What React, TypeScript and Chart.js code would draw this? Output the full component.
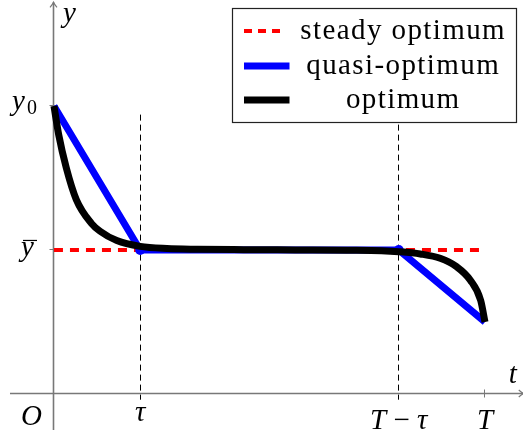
import React, { useEffect, useRef } from "react";
import { Chart, registerables } from "chart.js";

Chart.register(...registerables);

// Problem constants: switching time, horizon, initial / steady state
const TAU = 1;
const T_END = 5;
const Y0 = 2;
const Y_BAR = 1;

// Steady optimum (horizontal reference)
const steadyT = [0, 5];
const steadyY = [1, 1];

// Quasi-optimum: linear transients joined by the steady arc
const quasiT = [0, 1, 4, 5];
const quasiY = [2, 1, 1, 0.5];

// Optimum trajectory (turnpike shape)
const optimumT = [0, 0.055, 0.143, 0.259, 0.434, 0.535, 0.729, 1.0, 1.31, 1.66, 2.2, 2.8, 3.4, 3.8, 4.0, 4.25, 4.48, 4.67, 4.83, 4.95, 5];
const optimumY = [2, 1.8, 1.57, 1.35, 1.185, 1.13, 1.065, 1.025, 1.01, 1.005, 1.002, 1.0, 0.998, 0.995, 0.988, 0.972, 0.942, 0.884, 0.79, 0.65, 0.5];

const seriesLabels = ["steady optimum", "quasi-optimum", "optimum"];
const seriesColors = ["#ff0000", "#0000ff", "#000000"];

// Axis extents in data units
const X_MIN = -0.626;
const X_MAX = 5.441;
const Y_MIN = -0.299;
const Y_MAX = 2.736;
const AXIS_T_FROM = -0.51;
const AXIS_T_TO = 5.45;
const AXIS_Y_FROM = -0.25;
const AXIS_Y_TO = 2.72;
const GUIDE_Y_FROM = -0.04;
const GUIDE_Y_TO = 1.94;

const MATH = 'italic 29px "Liberation Serif", "Times New Roman", serif';
const ROMAN = '29px "Liberation Serif", "Times New Roman", serif';
const SUB = '20px "Liberation Serif", "Times New Roman", serif';
const AXIS_GRAY = "#787878";

const zip = (xs: number[], ys: number[]) => xs.map((x, i) => ({ x, y: ys[i] }));
const crisp = (p: number) => Math.round(p - 0.5) + 0.5;

const decorPlugin = {
  id: "decor",
  beforeDatasetsDraw(chart: any) {
    const { ctx, scales } = chart;
    const xs = scales.x;
    const ys = scales.y;
    const x0 = crisp(xs.getPixelForValue(0));
    const y0 = crisp(ys.getPixelForValue(0));
    ctx.save();
    ctx.strokeStyle = AXIS_GRAY;
    ctx.lineWidth = 1.6;
    // horizontal axis
    const xa = xs.getPixelForValue(AXIS_T_FROM);
    const xb = xs.getPixelForValue(AXIS_T_TO);
    ctx.beginPath();
    ctx.moveTo(xa, y0);
    ctx.lineTo(xb, y0);
    ctx.stroke();
    // vertical axis
    const ya = ys.getPixelForValue(AXIS_Y_FROM);
    const yb = ys.getPixelForValue(AXIS_Y_TO);
    ctx.beginPath();
    ctx.moveTo(x0, ya);
    ctx.lineTo(x0, yb);
    ctx.stroke();
    // arrow heads
    ctx.lineWidth = 1.2;
    ctx.beginPath();
    ctx.moveTo(xb - 5, y0 - 3.5);
    ctx.quadraticCurveTo(xb - 2, y0 - 0.8, xb, y0);
    ctx.quadraticCurveTo(xb - 2, y0 + 0.8, xb - 5, y0 + 3.5);
    ctx.stroke();
    ctx.beginPath();
    ctx.moveTo(x0 - 3.5, yb + 5);
    ctx.quadraticCurveTo(x0 - 0.8, yb + 2, x0, yb);
    ctx.quadraticCurveTo(x0 + 0.8, yb + 2, x0 + 3.5, yb + 5);
    ctx.stroke();
    // ticks
    ctx.lineWidth = 1;
    for (const v of [Y0, Y_BAR]) {
      const p = crisp(ys.getPixelForValue(v));
      ctx.beginPath();
      ctx.moveTo(x0 - 4, p);
      ctx.lineTo(x0 + 4, p);
      ctx.stroke();
    }
    const pT = crisp(xs.getPixelForValue(T_END));
    ctx.beginPath();
    ctx.moveTo(pT, y0 - 4);
    ctx.lineTo(pT, y0 + 4);
    ctx.stroke();

    // dashed guides at tau and T - tau
    ctx.strokeStyle = "#000";
    ctx.lineWidth = 1;
    ctx.setLineDash([6, 4]);
    for (const t of [TAU, T_END - TAU]) {
      const px = crisp(xs.getPixelForValue(t));
      ctx.beginPath();
      ctx.moveTo(px, ys.getPixelForValue(GUIDE_Y_TO));
      ctx.lineTo(px, ys.getPixelForValue(GUIDE_Y_FROM));
      ctx.stroke();
    }
    ctx.restore();
  },
  afterDatasetsDraw(chart: any) {
    const { ctx, scales } = chart;
    const xs = scales.x;
    const ys = scales.y;
    const x0 = xs.getPixelForValue(0);
    const y0 = ys.getPixelForValue(0);
    ctx.save();
    ctx.fillStyle = "#000";
    ctx.textBaseline = "alphabetic";

    // axis names
    ctx.font = MATH;
    ctx.textAlign = "left";
    ctx.fillText("y", x0 + 9, 22);
    ctx.fillText("t", xs.getPixelForValue(AXIS_T_TO) - 15, y0 - 11);
    ctx.fillText("O", x0 - 33, y0 + 31);

    // horizontal tick labels
    ctx.textAlign = "center";
    ctx.fillText("\u03c4", xs.getPixelForValue(TAU), y0 + 27);
    ctx.fillText("T", xs.getPixelForValue(T_END), y0 + 35);
    const pTm = xs.getPixelForValue(T_END - TAU);
    ctx.textAlign = "left";
    const wT = ctx.measureText("T").width;
    ctx.font = ROMAN;
    const wMinus = ctx.measureText(" \u2212 ").width;
    ctx.font = MATH;
    const wTau = ctx.measureText("\u03c4").width;
    const left = pTm - (wT + wMinus + wTau) / 2;
    ctx.fillText("T", left, y0 + 35);
    ctx.font = ROMAN;
    ctx.fillText(" \u2212 ", left + wT, y0 + 35);
    ctx.font = MATH;
    ctx.fillText("\u03c4", left + wT + wMinus, y0 + 35);

    // vertical tick labels
    const pY0 = ys.getPixelForValue(Y0);
    ctx.fillText("y", 12, pY0 + 4);
    ctx.font = SUB;
    ctx.fillText("0", 27, pY0 + 8);
    const pYb = ys.getPixelForValue(Y_BAR);
    ctx.font = MATH;
    ctx.fillText("y", 21, pYb + 6);
    ctx.strokeStyle = "#000";
    ctx.lineWidth = 1.2;
    ctx.beginPath();
    ctx.moveTo(23, pYb - 9.5);
    ctx.lineTo(37, pYb - 9.5);
    ctx.stroke();

    // legend
    const bx = 232.5;
    const by = 8.5;
    const bw = 284;
    const bh = 114;
    ctx.fillStyle = "#fff";
    ctx.fillRect(bx, by, bw, bh);
    ctx.strokeStyle = "#222";
    ctx.lineWidth = 1.2;
    ctx.strokeRect(bx, by, bw, bh);
    const rowY = [31, 66, 100];
    for (let i = 0; i < seriesLabels.length; i++) {
      ctx.strokeStyle = seriesColors[i];
      ctx.lineWidth = i === 0 ? 4 : 7;
      ctx.setLineDash(i === 0 ? [8, 6] : []);
      ctx.beginPath();
      ctx.moveTo(bx + 11.5, rowY[i]);
      ctx.lineTo(bx + (i === 0 ? 52 : 57), rowY[i]);
      ctx.stroke();
      ctx.setLineDash([]);
      ctx.fillStyle = "#000";
      ctx.font = ROMAN;
      (ctx as any).letterSpacing = "1.4px";
      ctx.textAlign = "center";
      ctx.fillText(seriesLabels[i], bx + 170.7, rowY[i] + 8);
      (ctx as any).letterSpacing = "0px";
    }
    ctx.restore();
  },
};

export default function App() {
  const ref = useRef<HTMLCanvasElement | null>(null);

  useEffect(() => {
    if (!ref.current) return;
    const chart = new Chart(ref.current, {
      type: "line",
      data: {
        datasets: [
          {
            label: seriesLabels[2],
            data: zip(optimumT, optimumY),
            borderColor: seriesColors[2],
            borderWidth: 7,
            pointRadius: 0,
            cubicInterpolationMode: "monotone",
            order: 1,
          },
          {
            label: seriesLabels[1],
            data: zip(quasiT, quasiY),
            borderColor: seriesColors[1],
            backgroundColor: seriesColors[1],
            borderWidth: 7,
            pointRadius: [0, 5, 5, 0],
            pointBorderWidth: 0,
            tension: 0,
            order: 2,
          },
          {
            label: seriesLabels[0],
            data: zip(steadyT, steadyY),
            borderColor: seriesColors[0],
            borderWidth: 4,
            borderDash: [9, 7],
            pointRadius: 0,
            order: 3,
          },
        ],
      },
      options: {
        responsive: false,
        animation: false,
        layout: { padding: 0 },
        scales: {
          x: { type: "linear", min: X_MIN, max: X_MAX, display: false },
          y: { type: "linear", min: Y_MIN, max: Y_MAX, display: false },
        },
        plugins: {
          legend: { display: false },
          tooltip: { enabled: false },
        },
      },
      plugins: [decorPlugin],
    } as any);
    return () => chart.destroy();
  }, []);

  return (
    <div style={{ position: "fixed", left: 0, top: 0, width: 523, height: 437, background: "#fff" }}>
      <canvas ref={ref} width={523} height={437} style={{ display: "block" }} />
    </div>
  );
}
